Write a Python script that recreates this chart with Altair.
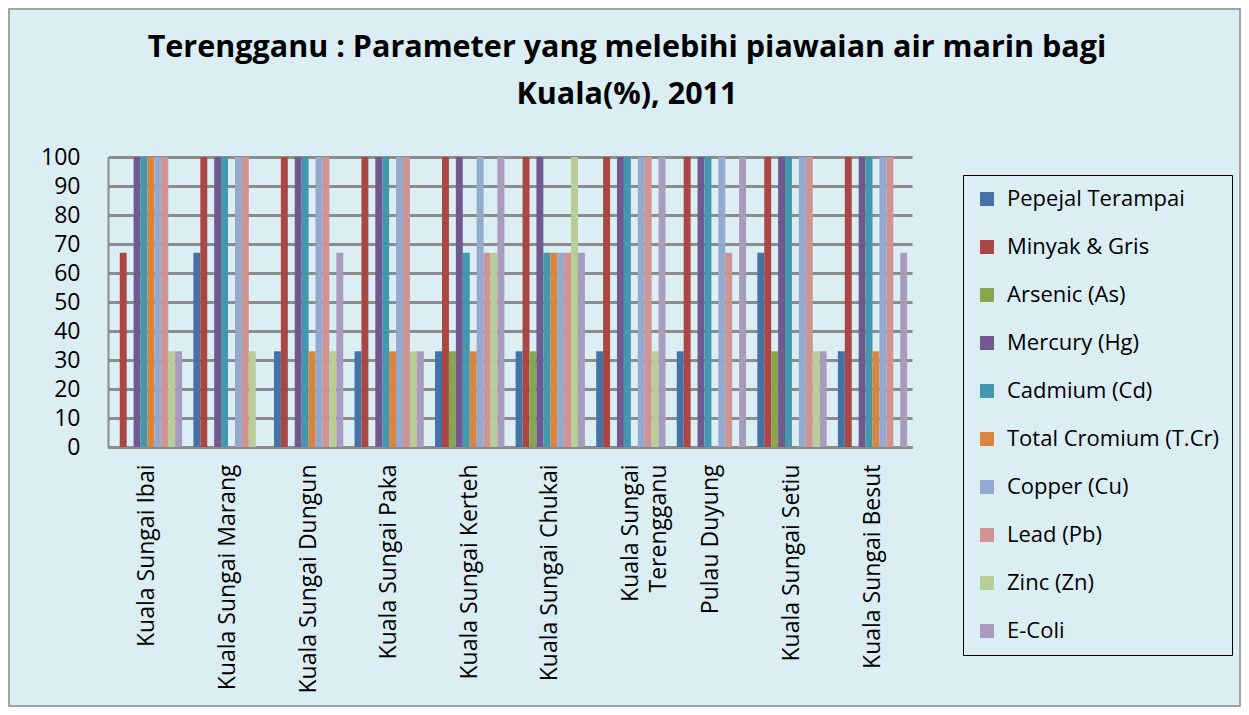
import altair as alt
import pandas as pd

categories = [
    "Kuala Sungai Ibai", "Kuala Sungai Marang", "Kuala Sungai Dungun",
    "Kuala Sungai Paka", "Kuala Sungai Kerteh", "Kuala Sungai Chukai",
    "Kuala Sungai Terengganu", "Pulau Duyung", "Kuala Sungai Setiu",
    "Kuala Sungai Besut",
]
series = [
    "Pepejal Terampai", "Minyak & Gris", "Arsenic (As)", "Mercury (Hg)",
    "Cadmium (Cd)", "Total Cromium (T.Cr)", "Copper (Cu)", "Lead (Pb)",
    "Zinc (Zn)", "E-Coli",
]
colors = ["#4572A7", "#AA4643", "#89A54E", "#71588F", "#4198AF",
          "#DB843D", "#93A9CF", "#D19392", "#B9CD96", "#A99BBD"]

pepejal = [0, 67, 33, 33, 33, 33, 33, 33, 67, 33]
minyak = [67, 100, 100, 100, 100, 100, 100, 100, 100, 100]
arsenic = [0, 0, 0, 0, 33, 33, 0, 0, 33, 0]
mercury = [100, 100, 100, 100, 100, 100, 100, 100, 100, 100]
cadmium = [100, 100, 100, 100, 67, 67, 100, 100, 100, 100]
cromium = [100, 0, 33, 33, 33, 67, 0, 0, 0, 33]
copper = [100, 100, 100, 100, 100, 67, 100, 100, 100, 100]
lead = [100, 100, 100, 100, 67, 67, 100, 67, 100, 100]
zinc = [33, 33, 33, 33, 67, 100, 33, 0, 33, 0]
ecoli = [33, 0, 67, 33, 100, 67, 100, 100, 33, 67]
y_ticks = [0, 10, 20, 30, 40, 50, 60, 70, 80, 90, 100]

title_line1 = "Terengganu : Parameter yang melebihi piawaian air marin bagi"
title_line2 = "Kuala(%), 2011"

all_values = [pepejal, minyak, arsenic, mercury, cadmium, cromium,
              copper, lead, zinc, ecoli]
rows = []
for s, vals in zip(series, all_values):
    for c, v in zip(categories, vals):
        rows.append({"Lokasi": c, "Parameter": s, "Nilai": v})
df = pd.DataFrame(rows)

FONT = "Open Sans"

bars = alt.Chart(df).mark_bar().encode(
    x=alt.X(
        "Lokasi:N", sort=categories,
        scale=alt.Scale(paddingInner=0.14, paddingOuter=0.06),
        axis=alt.Axis(
            title=None, labelAngle=-90, labelAlign="right",
            labelBaseline="middle", labelFontSize=23, labelFont=FONT,
            labelColor="black", labelPadding=17, ticks=False,
            domainColor="#8C8C8C", domainWidth=3, labelLimit=400,
            labelLineHeight=28,
            labelExpr="datum.value == 'Kuala Sungai Terengganu' ? ['Kuala Sungai', 'Terengganu'] : datum.value",
        ),
    ),
    xOffset=alt.XOffset("Parameter:N", sort=series,
                        scale=alt.Scale(paddingInner=0, paddingOuter=0)),
    y=alt.Y(
        "Nilai:Q",
        scale=alt.Scale(domain=[0, 100], nice=False),
        axis=alt.Axis(
            title=None, values=y_ticks, grid=True, gridColor="#8C8C8C",
            gridWidth=3, ticks=False, domainColor="#8C8C8C", domainWidth=2,
            labelFontSize=23, labelFont=FONT, labelColor="black",
            labelPadding=28,
        ),
    ),
    color=alt.Color(
        "Parameter:N", sort=series,
        scale=alt.Scale(domain=series, range=colors),
        legend=alt.Legend(
            title=None, orient="none", legendX=855, legendY=18,
            strokeColor="black", padding=13, symbolType="square",
            symbolSize=196, symbolStrokeWidth=0, symbolOpacity=1,
            labelFontSize=22, labelFont=FONT, labelColor="black",
            rowPadding=26, labelOffset=9, labelLimit=400,
        ),
    ),
)

one = pd.DataFrame({"a": [0]})

border = alt.Chart(one).mark_rect(
    fill=None, stroke="#8C8C8C", strokeWidth=1.5
).encode(
    x=alt.value(-99), x2=alt.value(1132), y=alt.value(-148), y2=alt.value(549)
)

title1 = alt.Chart(one).mark_text(
    font=FONT, fontSize=30.5, fontWeight="bold", color="black",
    align="center", baseline="middle",
).encode(x=alt.value(519), y=alt.value(-109), text=alt.value(title_line1))

title2 = alt.Chart(one).mark_text(
    font=FONT, fontSize=30.5, fontWeight="bold", color="black",
    align="center", baseline="middle",
).encode(x=alt.value(519), y=alt.value(-62), text=alt.value(title_line2))

chart = alt.layer(border, title1, title2, bars).properties(
    width=804, height=290,
    autosize=alt.AutoSizeParams(type="none"),
    padding={"left": 100, "top": 149, "right": 329, "bottom": 260},
).configure(background="#DBEEF4").configure_view(stroke=None)

chart.save("out.html", embed_options={"renderer": "svg", "actions": False})
